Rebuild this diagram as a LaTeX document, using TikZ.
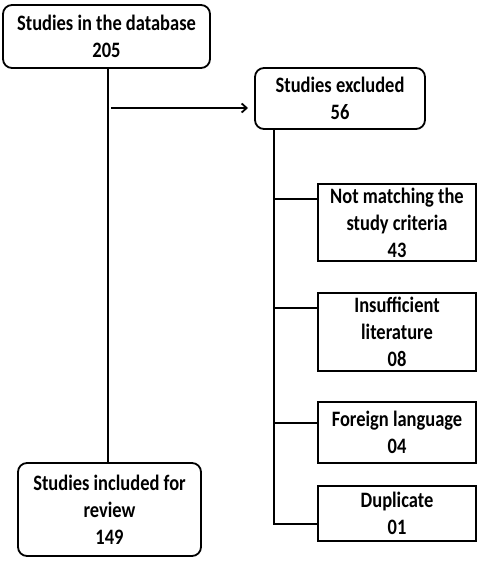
\documentclass[tikz,border=0pt]{standalone}
\usepackage{fontspec}
\setmainfont{Carlito}[FakeStretch=0.84]
\usetikzlibrary{arrows.meta}
\begin{document}
\begin{tikzpicture}[x=1bp,y=-1bp,
  every node/.style={font=\fontsize{22bp}{27bp}\selectfont\bfseries, align=center, inner sep=0pt},
  rbox/.style={draw, line width=1.8bp, rounded corners=9bp},
  sbox/.style={draw, line width=1.8bp},
  conn/.style={line width=1.8bp},
  arr/.style={line width=1.8bp, -{Straight Barb[length=5bp,width=9bp,line width=1.8bp]}}]
\useasboundingbox (0,0) rectangle (480,563);
\node[rbox, minimum width=207bp, minimum height=63bp] (db) at (106.5,36.5) {Studies in the database\\205};
\node[rbox, minimum width=170bp, minimum height=61bp] (ex) at (340,98.5) {Studies excluded\\56};
\node[sbox, minimum width=158bp, minimum height=77bp] (nm) at (397,222.5) {Not matching the\\study criteria\\43};
\node[sbox, minimum width=158bp, minimum height=78bp] (ins) at (397,332) {Insufficient\\literature\\08};
\node[sbox, minimum width=158bp, minimum height=61bp] (fl) at (397,432.5) {Foreign language\\04};
\node[sbox, minimum width=158bp, minimum height=55bp] (dup) at (397,513.5) {Duplicate\\01};
\node[rbox, minimum width=183bp, minimum height=93bp] (inc) at (109.5,509.5) {Studies included for\\review\\149};
\coordinate (split) at (108,108);
\coordinate (tr) at (274,129);
\draw[conn] (db.south -| split) -- (inc.north -| split);
\draw[arr] ([xshift=3bp]split) -- (248,108) coordinate (arrend);
\draw[conn] (tr) -- (274,524) -- (dup.west |- 0,524);
\draw[conn] (274,199) -- (nm.west |- 0,199);
\draw[conn] (274,308) -- (ins.west |- 0,308);
\draw[conn] (274,423) -- (fl.west |- 0,423);
\end{tikzpicture}
\end{document}
